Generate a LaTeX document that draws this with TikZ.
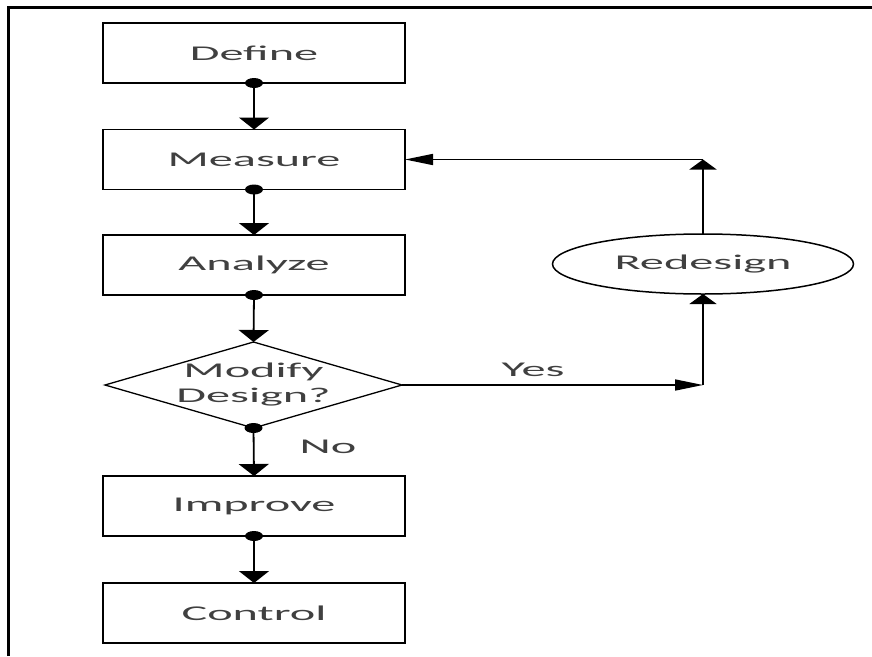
\documentclass[tikz,border=0pt]{standalone}
\usepackage{graphicx}
\usepackage{fontspec}
\setmainfont{Carlito}
\usetikzlibrary{arrows.meta,shapes.geometric}
\newcommand\wtxt[1]{\scalebox{2.3}[1]{#1}}
\definecolor{txtgray}{HTML}{404040}
\tikzset{
  x=1pt,y=-1pt,
  box/.style={draw,line width=1.8pt,rectangle,minimum width=302pt,minimum height=60pt,inner sep=0pt,outer sep=0pt,font=\fontsize{21}{25}\selectfont,text=txtgray},
  decision/.style={draw,line width=1.3pt,diamond,minimum width=297pt,minimum height=86pt,inner sep=0pt,outer sep=0pt},
  oval/.style={draw,line width=1.5pt,ellipse,minimum width=301pt,minimum height=60pt,inner sep=0pt,outer sep=0pt,font=\fontsize{21}{25}\selectfont,text=txtgray},
  lbl/.style={font=\fontsize{21}{25}\selectfont,text=txtgray,inner sep=0pt,align=center},
  varrow/.style={line width=1.8pt,-{Triangle[width=30pt,length=12pt]}},
  harrow/.style={line width=1.6pt,-{Triangle[width=11pt,length=28pt]}},
  dotm/.style={fill=black}
}
\begin{document}
\begin{tikzpicture}
\useasboundingbox (0,0) rectangle (872,656);
% frame
\draw[line width=3pt] (8.5,656) -- (8.5,7.5) -- (872,7.5);

\node[box] (define) at (254,53) {\wtxt{Define}};
\node[box] (measure) at (254,159.5) {\wtxt{Measure}};
\node[box] (analyze) at (254,265) {\wtxt{Analyze}};
\node[decision] (dec) at (253.5,385) {};
\node[lbl] (dectxt) at (dec.center) {\wtxt{Modify}\\\wtxt{Design?}};
\node[box] (improve) at (254,506) {\wtxt{Improve}};
\node[box] (control) at (254,613) {\wtxt{Control}};
\node[oval] (redesign) at (703,264) {\wtxt{Redesign}};

\coordinate (c1) at (703,385);
\coordinate (c2) at (703,159.5);

\draw[varrow] (define.south) -- (measure.north);
\draw[varrow] (measure.south) -- (analyze.north);
\draw[varrow] (analyze.south) -- (dec.north);
\draw[varrow] (dec.south) -- (improve.north);
\draw[varrow] (improve.south) -- (control.north);

\draw[harrow] (dec.east) -- (c1);
\draw[varrow,-{Triangle[width=27pt,length=10pt]}] (c1) -- (redesign.south);
\draw[varrow,-{Triangle[width=27pt,length=10pt]}] (redesign.north) -- (c2);
\draw[harrow] (c2) -- (measure.east);

\node[lbl] (yes) at (533,370) {\wtxt{Yes}};
\node[lbl] (no) at (328,447) {\wtxt{No}};

\foreach \n in {define,measure,analyze,dec,improve}
  \fill[dotm] (\n.south) ellipse [x radius=9pt,y radius=5pt];
\end{tikzpicture}
\end{document}
